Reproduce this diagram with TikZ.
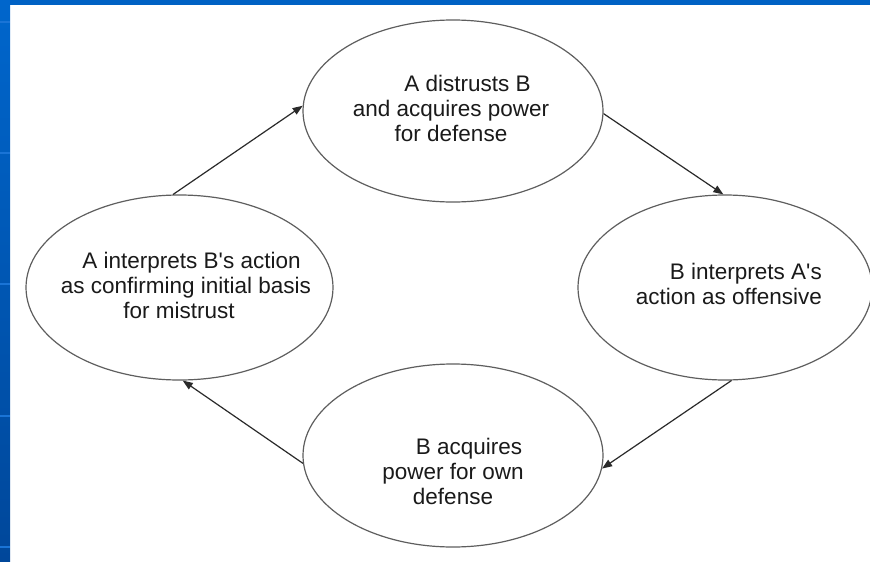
\documentclass[tikz,border=0pt]{standalone}
\usepackage{fontspec}
\setmainfont{Liberation Sans}
\usetikzlibrary{shapes.geometric,arrows.meta}
\definecolor{bandblue}{HTML}{0062C4}
\definecolor{bandtop}{HTML}{0066CC}
\definecolor{bandbot}{HTML}{00479A}
\definecolor{stripe}{HTML}{1A74D6}
\definecolor{ringgray}{HTML}{5E5E5E}
\definecolor{arrowgray}{HTML}{2A2A2A}
\definecolor{textblack}{HTML}{1A1A1A}
\tikzset{
  ring/.style={ellipse, draw=ringgray, line width=1.2pt, inner sep=0pt},
  lbl/.style={text=textblack, font=\fontsize{22.5}{25}\selectfont, inner sep=0pt},
  arr/.style={draw=arrowgray, line width=1.2pt, -{Triangle[length=10pt,width=7.5pt]}}
}
\begin{document}
\begin{tikzpicture}[x=1pt,y=-1pt]
\useasboundingbox (0,0) rectangle (870,562);
\fill[white] (0,0) rectangle (870,562);
\fill[bandblue] (0,0) rectangle (870,5);
\shade[top color=bandtop,bottom color=bandbot] (0,0) rectangle (10,562);
\foreach \yy in {22,153,284,416,547}{
  \fill[stripe] (0,\yy-1) rectangle (10,\yy+1);
}
\node[ring, minimum width=300pt, minimum height=182pt] (top) at (453,111) {};
\node[ring, minimum width=307pt, minimum height=185pt] (left) at (179.5,287.5) {};
\node[ring, minimum width=294pt, minimum height=185pt] (right) at (725,287.5) {};
\node[ring, minimum width=300pt, minimum height=183pt] (bottom) at (453,455.5) {};
\node[lbl, align=center] (toptext) at (451,108) {\hspace*{33pt}A distrusts B\\and acquires power\\for defense};
\node[lbl, align=center] (lefttext) at (186,285.5) {\hspace*{11pt}A interprets B\textquotesingle s action\\as confirming initial basis\\for mistrust\hspace*{14pt}};
\node[lbl, align=right, anchor=east] (righttext) at (822,284) {B interprets A\textquotesingle s\\action as offensive};
\node[lbl, align=center] (bottomtext) at (453,471) {\hspace*{32pt}B acquires\\power for own\\defense};
\draw[arr] (left.94) -- (top.178);
\draw[arr] (top.-1) -- (right.91);
\draw[arr] (right.274) -- (bottom.-5);
\draw[arr] (bottom.183) -- (left.272);
\end{tikzpicture}
\end{document}
